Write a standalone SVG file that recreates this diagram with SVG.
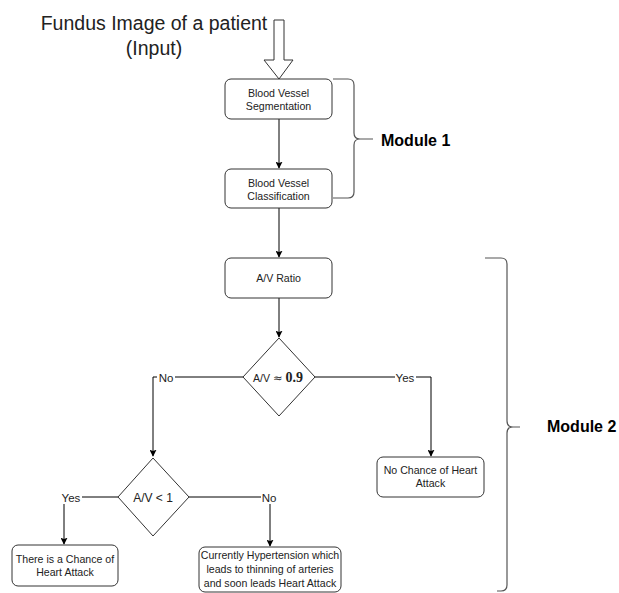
<svg xmlns="http://www.w3.org/2000/svg" width="619" height="593" viewBox="0 0 619 593">
<style>
text{font-family:"Liberation Sans",Arial,sans-serif;fill:#222;}
.box{fill:#fff;stroke:#333;stroke-width:1;}
.t{font-size:10.6px;text-anchor:middle;}
.lbl{font-size:11.5px;text-anchor:middle;}
.c{fill:none;stroke:#000;stroke-width:1;}
.br{fill:none;stroke:#555;stroke-width:1.2;}
.mod{font-size:16px;font-weight:bold;fill:#000;}
</style>
<defs>
<marker id="ah" viewBox="0 0 10 10" refX="9" refY="5" markerWidth="7" markerHeight="7" markerUnits="userSpaceOnUse" orient="auto">
<path d="M0,0 L10,5 L0,10 L2,5 Z" fill="#000"/>
</marker>
</defs>
<rect width="619" height="593" fill="#fff"/>
<g id="title">
<text x="154" y="30" font-size="19.5" text-anchor="middle">Fundus Image of a patient</text>
<text x="154" y="55" font-size="19.5" text-anchor="middle">(Input)</text>
</g>
<g id="input-arrow">
<polygon points="274,20 284,20 284,60 293,60 279,79 264,60 274,60" fill="#fff" stroke="#333" stroke-width="1"/>
</g>
<g id="connectors">
<line class="c" x1="279" y1="119" x2="279" y2="168" marker-end="url(#ah)"/>
<line class="c" x1="279" y1="208" x2="279" y2="257" marker-end="url(#ah)"/>
<line class="c" x1="279" y1="298" x2="279" y2="337" marker-end="url(#ah)"/>
<path class="c" d="M243,377 H153 V456" marker-end="url(#ah)"/>
<path class="c" d="M315,377 H431 V456" marker-end="url(#ah)"/>
<path class="c" d="M118,497 H64 V544" marker-end="url(#ah)"/>
<path class="c" d="M189,497 H270 V546" marker-end="url(#ah)"/>
<rect x="157" y="371" width="18" height="13" fill="#fff"/>
<text class="lbl" x="166" y="382">No</text>
<rect x="395" y="371" width="21" height="13" fill="#fff"/>
<text class="lbl" x="405" y="382">Yes</text>
<rect x="61" y="491" width="21" height="13" fill="#fff"/>
<text class="lbl" x="71" y="502">Yes</text>
<rect x="261" y="491" width="17" height="13" fill="#fff"/>
<text class="lbl" x="269" y="502">No</text>
</g>
<g id="seg">
<rect class="box" x="225" y="79" width="107" height="40" rx="6"/>
<text class="t" x="278.5" y="97">Blood Vessel</text>
<text class="t" x="278.5" y="110">Segmentation</text>
</g>
<g id="cls">
<rect class="box" x="225" y="169" width="107" height="39" rx="6"/>
<text class="t" x="278.5" y="187">Blood Vessel</text>
<text class="t" x="278.5" y="200">Classification</text>
</g>
<g id="ratio">
<rect class="box" x="225" y="258" width="107" height="40" rx="6"/>
<text class="t" x="278.5" y="282">A/V Ratio</text>
</g>
<g id="dec1">
<polygon class="box" points="279,338 315,377 279,416 243,377"/>
<text x="278" y="382" text-anchor="middle" font-size="10.6"><tspan>A/V </tspan><tspan font-family="'DejaVu Sans',sans-serif" font-size="11.5">≈</tspan><tspan> </tspan><tspan font-family="'Liberation Serif','DejaVu Serif',serif" font-weight="bold" font-size="14">0.9</tspan></text>
</g>
<g id="dec2">
<polygon class="box" points="153,458 189,497 153,536 118,497"/>
<text x="153" y="502" text-anchor="middle" font-size="12">A/V &lt; 1</text>
</g>
<g id="nochance">
<rect class="box" x="377" y="457" width="107" height="40" rx="6"/>
<text class="t" x="430.5" y="474">No Chance of Heart</text>
<text class="t" x="430.5" y="487">Attack</text>
</g>
<g id="chance">
<rect class="box" x="12" y="545" width="106" height="41" rx="6"/>
<text class="t" x="65" y="563">There is a Chance of</text>
<text class="t" x="65" y="576">Heart Attack</text>
</g>
<g id="hyper">
<rect class="box" x="199" y="547" width="142" height="45" rx="6"/>
<text class="t" x="270" y="559">Currently Hypertension which</text>
<text class="t" x="270" y="573">leads to thinning of arteries</text>
<text class="t" x="270" y="587">and soon leads Heart Attack</text>
</g>
<g id="module1">
<path class="br" d="M333,79 H348 Q354,79 354,85 V133 Q354,139 360,139 Q354,139 354,145 V192 Q354,198 348,198 H333 M360,139 H373"/>
<text class="mod" x="381" y="146">Module 1</text>
</g>
<g id="module2">
<path class="br" d="M485,258 H501 Q507,258 507,264 V421 Q507,427 513,427 Q507,427 507,433 V585 Q507,591 501,591 H497 M513,427 H520"/>
<text class="mod" x="547" y="432">Module 2</text>
</g>
</svg>
